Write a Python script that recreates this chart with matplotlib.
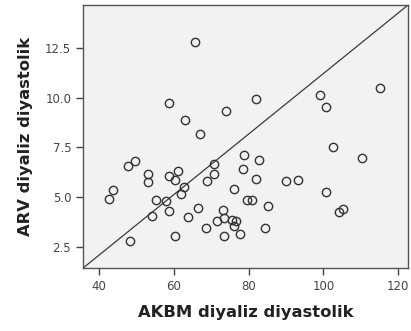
import matplotlib
matplotlib.use('Agg')
import matplotlib.pyplot as plt

# AKBM diyaliz diyastolik (x) vs ARV diyaliz diyastolik (y)
akbm = [65.7, 58.7, 74.0, 63.0, 67.1, 81.9, 99.0, 100.6, 115.3, 49.5,
        47.8, 43.6, 42.6, 53.2, 53.2, 58.6, 61.0, 60.4, 62.7, 61.9,
        55.3, 57.9, 58.8, 54.2, 48.3, 60.2, 63.7, 66.5, 70.8, 70.8,
        69.0, 78.7, 78.4, 76.0, 79.6, 81.0, 73.1, 73.3, 71.5, 68.7,
        73.5, 75.7, 76.6, 76.2, 77.8, 82.8, 81.9, 90.1, 93.1, 102.6,
        110.3, 100.8, 85.3, 84.5, 105.4, 104.3]
arv = [12.78, 9.74, 9.34, 8.89, 8.17, 9.92, 10.11, 9.54, 10.47, 6.83,
       6.58, 5.33, 4.89, 6.15, 5.78, 6.05, 6.30, 5.88, 5.48, 5.16,
       4.84, 4.79, 4.29, 4.05, 2.79, 3.05, 4.00, 4.46, 6.65, 6.15,
       5.83, 7.10, 6.40, 5.41, 4.83, 4.86, 4.33, 3.97, 3.79, 3.42,
       3.05, 3.87, 3.79, 3.54, 3.14, 6.85, 5.93, 5.81, 5.86, 7.50,
       6.95, 5.23, 4.53, 3.45, 4.38, 4.24]
xticks = [40, 60, 80, 100, 120]
yticks = [2.5, 5.0, 7.5, 10.0, 12.5]

fig = plt.figure(figsize=(4.11, 3.31), dpi=100)
ax = fig.add_axes([0.202, 0.190, 0.791, 0.795])
ax.set_facecolor('#f2f2f2')

# reference line corner to corner
ax.plot([0, 1], [0, 1], transform=ax.transAxes, color='#3a3a3a', lw=0.9)

ax.plot(akbm, arv, 'o', markersize=6, markerfacecolor='none',
        markeredgecolor='#333333', markeredgewidth=1.0)

ax.set_xlim(35.7, 122.7)
ax.set_ylim(1.43, 14.65)
ax.set_xticks(xticks)
ax.set_yticks(yticks)
ax.set_yticklabels(['%.1f' % v for v in yticks])

for s in ax.spines.values():
    s.set_color('#555555')
    s.set_linewidth(1.0)
ax.tick_params(direction='out', length=5, width=1, color='#444444',
               labelcolor='#444444', labelsize=8.5)

ax.set_xlabel('AKBM diyaliz diyastolik', fontsize=11.8, fontweight='bold',
              labelpad=9, color='#222222')
ax.set_ylabel('ARV diyaliz diyastolik', fontsize=11.8, fontweight='bold',
              labelpad=9, color='#222222')

fig.savefig('out.png', dpi=100)
